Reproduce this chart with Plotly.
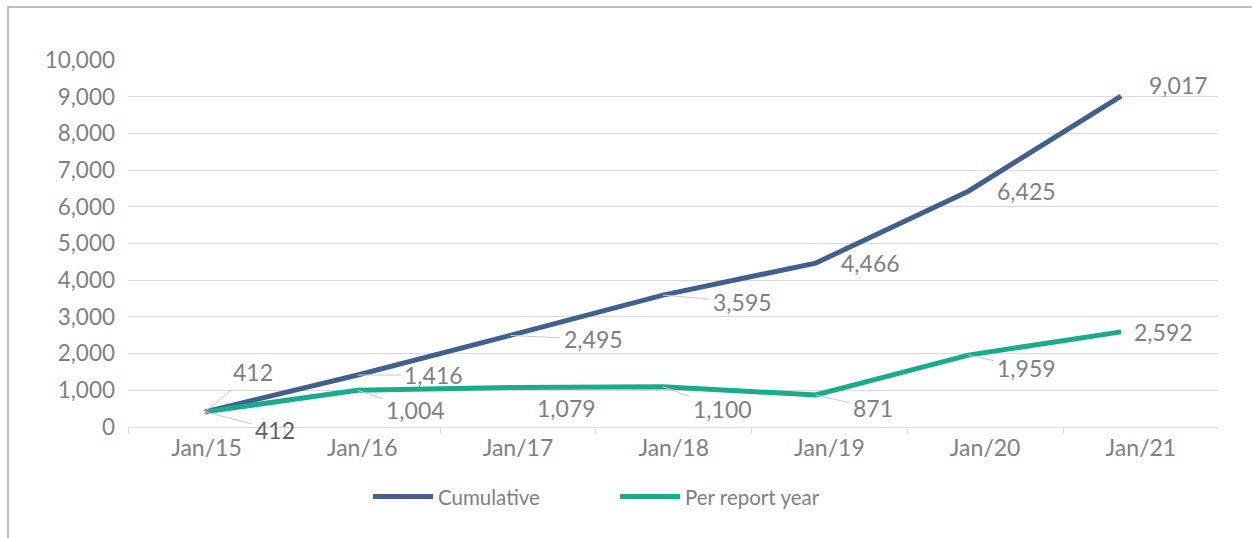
import plotly.graph_objects as go

# ---- data ----
categories = ["Jan/15", "Jan/16", "Jan/17", "Jan/18", "Jan/19", "Jan/20", "Jan/21"]
cumulative = [412, 1416, 2495, 3595, 4466, 6425, 9017]
per_report_year = [412, 1004, 1079, 1100, 871, 1959, 2592]
y_ticks = list(range(0, 10001, 1000))

# ---- styles ----
BLUE = "#41608b"
TEAL = "#19ab8b"
GRAY_TXT = "#7f7f7f"
GRID = "#d9d9d9"
FONT = "Lato"

# label offsets in pixels (dx, dy) and leader visibility
cum_offsets = [(48, -40), (76, 0), (83, 4), (79, 7), (55, 0), (58, 0), (57, -11)]
cum_leader = [True, True, True, True, False, False, False]
per_offsets = [(70, 18), (58, 20), (56, 21), (59, 22), (57, 13), (58, 13), (42, 0)]
per_leader = [True, True, False, True, True, True, False]

xs = list(range(len(categories)))
step = 1.02
label_pos = [0.01 + step * i for i in xs]
bounds = [-0.5 + step * i for i in range(len(categories) + 1)]

fig = go.Figure()
fig.add_trace(go.Scatter(x=xs, y=cumulative, mode="lines", name="Cumulative",
                         line=dict(color=BLUE, width=5)))
fig.add_trace(go.Scatter(x=xs, y=per_report_year, mode="lines", name="Per report year",
                         line=dict(color=TEAL, width=5)))

annotations = []
def add_labels(values, offsets, leaders, color=GRAY_TXT):
    for i, v in enumerate(values):
        dx, dy = offsets[i]
        annotations.append(dict(
            x=xs[i], y=v, xref="x", yref="y", text=f"{v:,}",
            showarrow=True, arrowhead=0, ax=dx, ay=dy, standoff=0,
            arrowwidth=1, arrowcolor="#c8c8c8" if leaders[i] else "rgba(0,0,0,0)",
            font=dict(family=FONT, size=23, color=color), borderpad=3,
        ))

add_labels(cumulative, cum_offsets, cum_leader)
add_labels(per_report_year, per_offsets, per_leader)
# the lower first label appears darker in the reference
annotations[len(cumulative)]["font"]["color"] = "#5f5f5f"

L, R, T, B = 128, 34, 60, 111
W, H = 1252, 538
pw, ph = W - L - R, H - T - B

shapes = [dict(type="rect", xref="paper", yref="paper",
               x0=(8 - L) / pw, x1=(W + 10 - L) / pw,
               y0=-(H + 10 - (H - B)) / ph, y1=((H - B) - 7) / ph,
               line=dict(color="#a6a6a6", width=1.5), fillcolor="rgba(0,0,0,0)", layer="below")]

fig.update_layout(
    width=W, height=H,
    margin=dict(l=L, r=R, t=T, b=B),
    paper_bgcolor="white", plot_bgcolor="white",
    font=dict(family=FONT, size=20, color=GRAY_TXT),
    showlegend=True,
    legend=dict(orientation="h", x=(368 - L) / pw, xanchor="left", y=-0.19, yanchor="middle",
                font=dict(family=FONT, size=20.5, color=GRAY_TXT), itemwidth=60,
                tracegroupgap=0, entrywidthmode="pixels", entrywidth=172),
    annotations=annotations,
    shapes=shapes,
    xaxis=dict(range=[-0.504, 6.635], tickmode="array", tickvals=label_pos, ticktext=categories,
               ticks="", showgrid=False, zeroline=False, showline=True, linecolor=GRID, linewidth=1,
               tickfont=dict(family=FONT, size=23, color=GRAY_TXT),
               minor=dict(tickmode="array", tickvals=bounds, ticks="outside", ticklen=6,
                          tickcolor=GRID, showgrid=False)),
    yaxis=dict(range=[0, 10000], tickmode="array", tickvals=y_ticks,
               ticktext=[f"{v:,}" for v in y_ticks], showgrid=True, gridcolor=GRID, gridwidth=1,
               zeroline=False, showline=False, ticks="", ticklabelstandoff=12,
               tickfont=dict(family=FONT, size=22.5, color=GRAY_TXT)),
)

fig.write_html("out.html", config={"displayModeBar": False},
               post_script="document.body.style.margin='0px';document.body.style.padding='0px';")
